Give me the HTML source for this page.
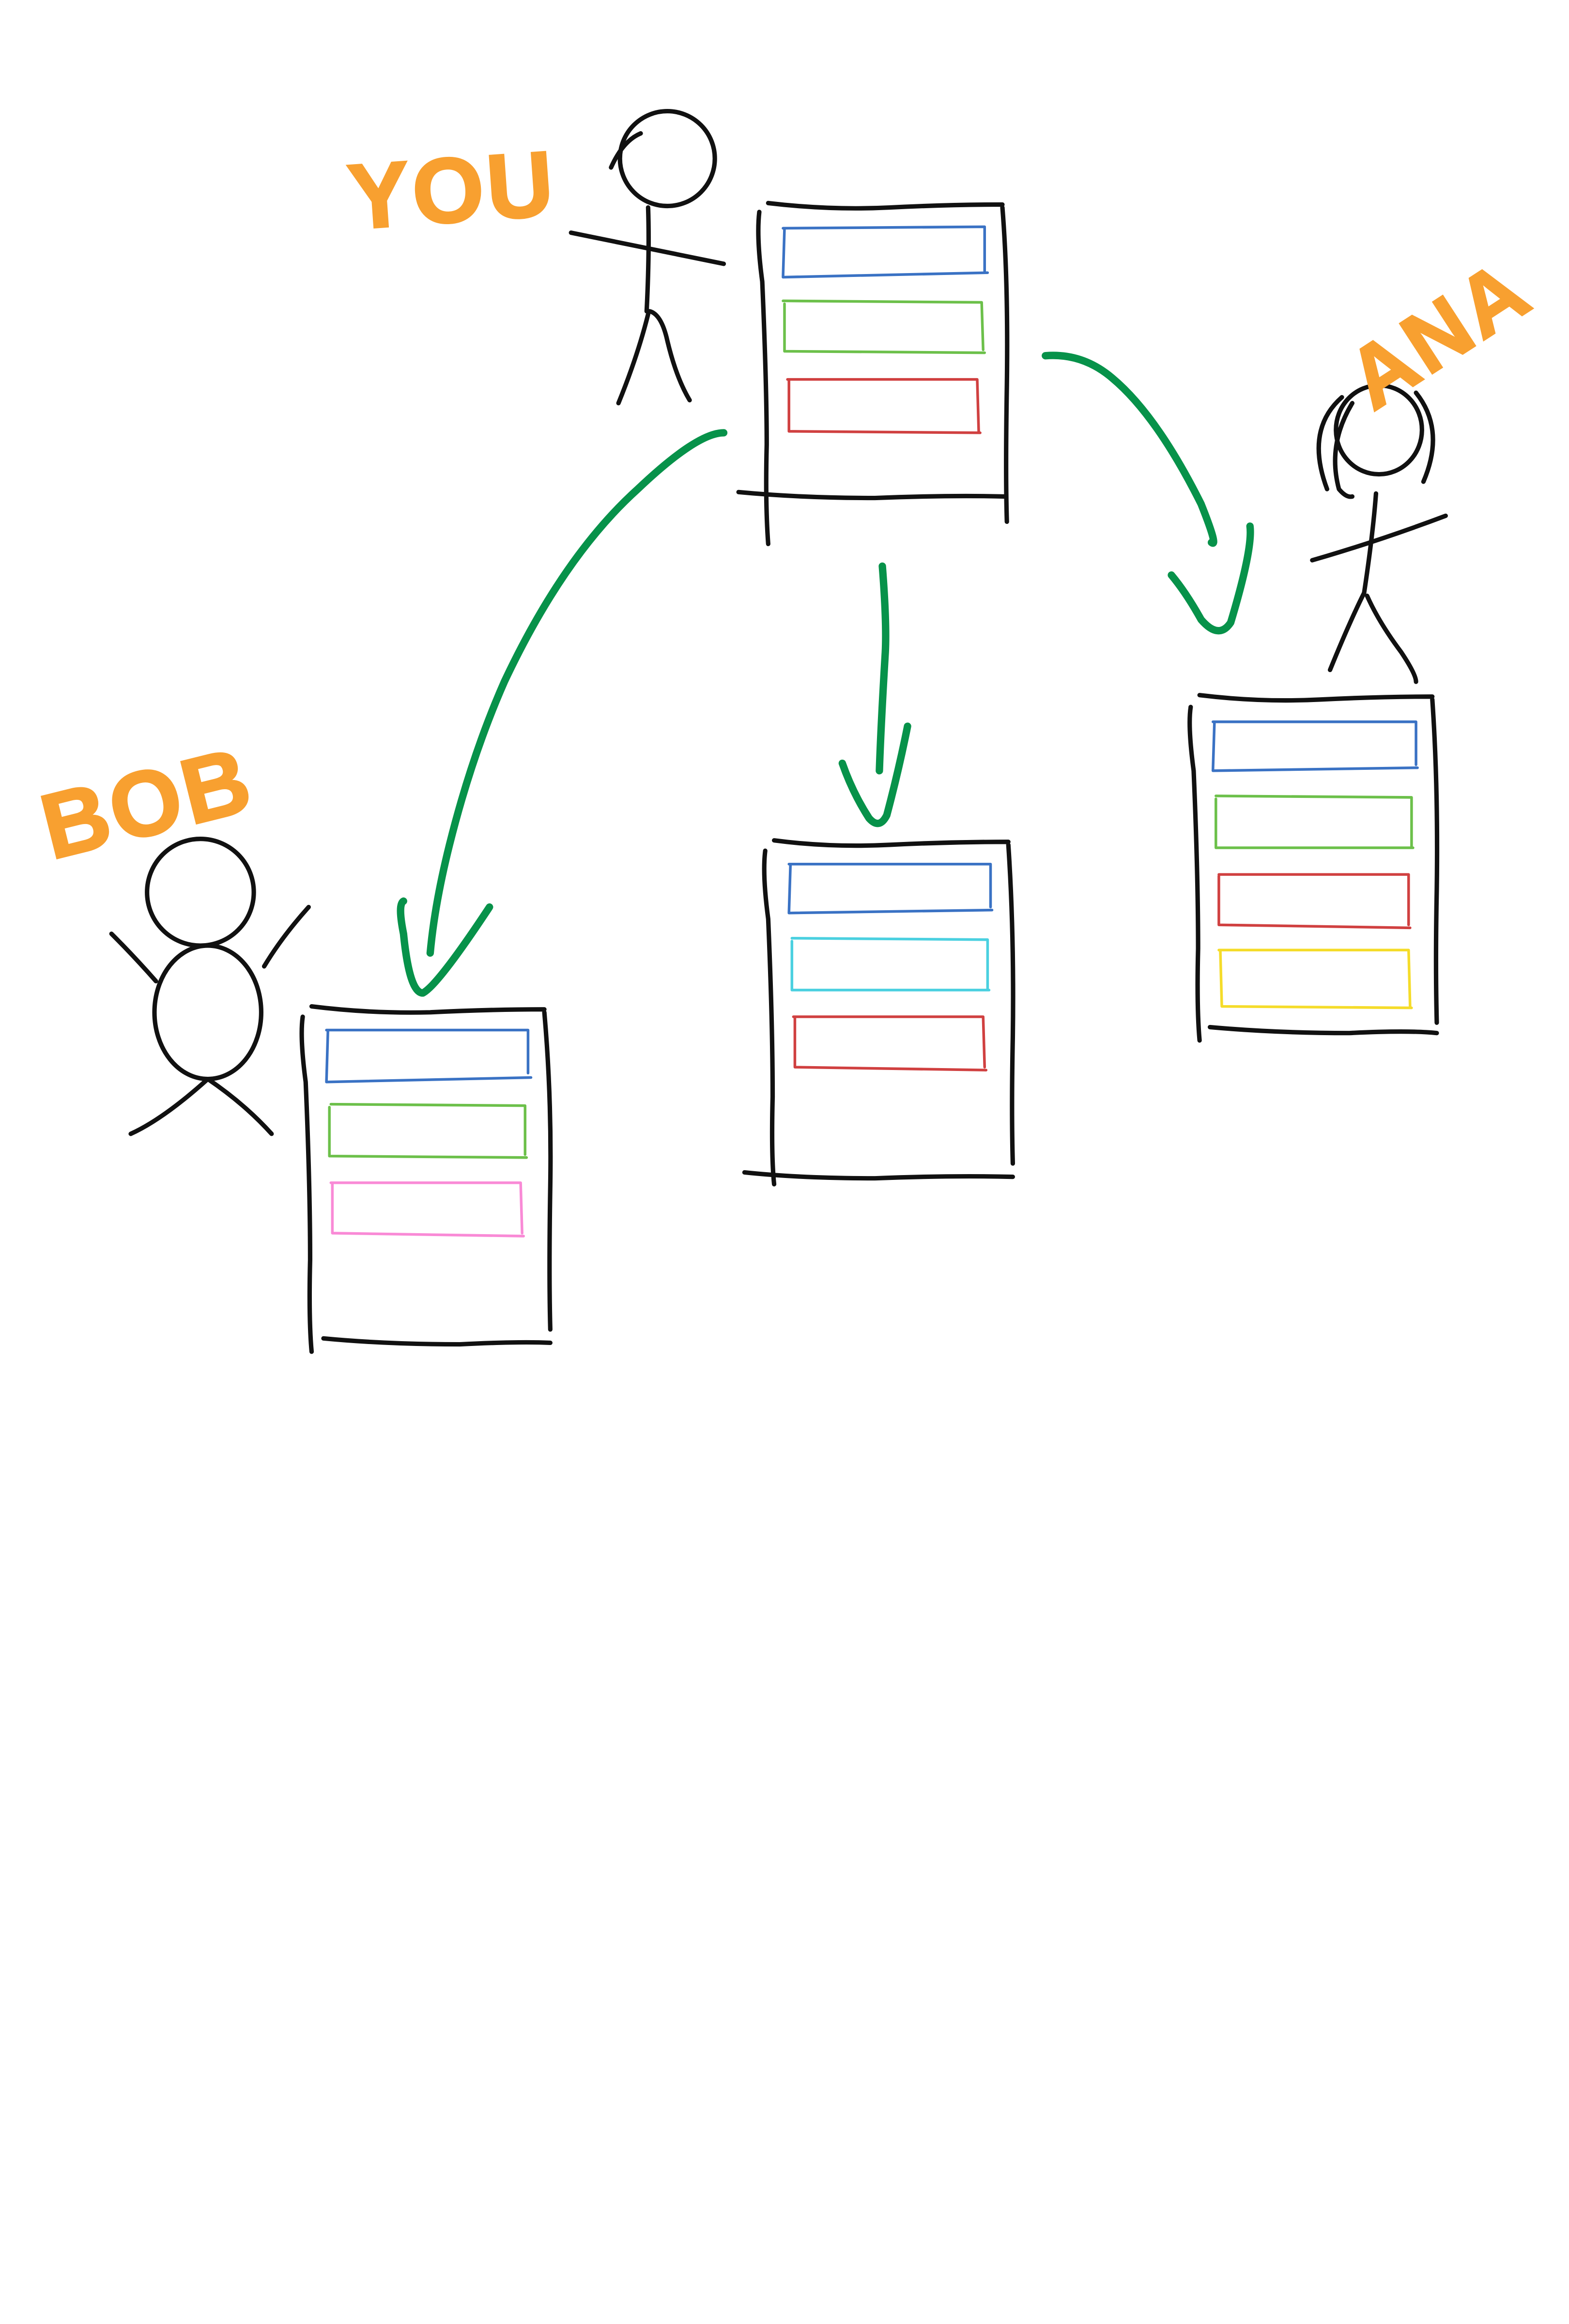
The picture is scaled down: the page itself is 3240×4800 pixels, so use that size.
<!DOCTYPE html>
<html><head><meta charset="utf-8"><style>html,body{margin:0;padding:0;background:#fff}svg{display:block}</style></head>
<body>
<svg width="3240" height="4800" viewBox="0 0 1058 1568" xmlns="http://www.w3.org/2000/svg">
<rect width="1058" height="1568" fill="#fff"/>
<g fill="none" stroke-linecap="round" stroke-linejoin="round">
<g stroke="#111" stroke-width="3">
<path d="M518 137 Q560 142 600 140 Q640 138 676 138 M676 140 Q680 190 679 260 Q678 320 679 352 M512 143 Q510 160 514 190 Q517 260 517 300 Q516 340 518 367 M498 332 Q540 336 590 336 Q640 334 678 335"/>
<path d="M210 679 Q250 684 290 683 Q330 681 367 681 M367 683 Q372 740 371 800 Q370 860 371 897 M204 686 Q202 700 206 730 Q209 800 209 850 Q208 890 210 912 M218 903 Q260 907 310 907 Q350 905 371 906"/>
<path d="M522 567 Q560 572 600 570 Q640 568 680 568 M680 570 Q684 630 683 700 Q682 750 683 785 M516 574 Q514 590 518 620 Q521 690 521 740 Q520 780 522 799 M502 791 Q540 795 590 795 Q640 793 683 794"/>
<path d="M809 469 Q850 474 890 472 Q930 470 966 470 M966 472 Q970 530 969 600 Q968 650 969 690 M803 477 Q801 490 805 520 Q808 590 808 640 Q807 680 809 702 M816 693 Q860 697 910 697 Q950 695 969 697"/>
</g>
<g stroke-width="1.8">
<path stroke="#3a72c4" d="M528 154 L664 153 L664 183 M529 154 L528 187 L666 184"/>
<path stroke="#6cc04a" d="M528 203 L662 204 L663 236 M529 205 L529 237 L664 238"/>
<path stroke="#d04040" d="M531 256 L659 256 L660 291 M532 257 L532 291 L661 292"/>
<path stroke="#3a72c4" d="M220 695 L356 695 L356 724 M221 696 L220 730 L358 727"/>
<path stroke="#6cc04a" d="M223 745 L354 746 L354 779 M222 747 L222 780 L355 781"/>
<path stroke="#f98ad6" d="M223 798 L351 798 L352 832 M224 799 L224 832 L353 834"/>
<path stroke="#3a72c4" d="M532 583 L668 583 L668 612 M533 584 L532 616 L669 614"/>
<path stroke="#4ad0e0" d="M534 633 L666 634 L666 667 M534 635 L534 668 L667 668"/>
<path stroke="#d04040" d="M535 686 L663 686 L664 720 M536 687 L536 720 L665 722"/>
<path stroke="#3a72c4" d="M818 487 L955 487 L955 516 M819 488 L818 520 L956 518"/>
<path stroke="#6cc04a" d="M820 537 L952 538 L952 571 M820 539 L820 572 L953 572"/>
<path stroke="#d04040" d="M822 590 L950 590 L950 624 M822 591 L822 624 L951 626"/>
<path stroke="#f5dc2a" d="M822 641 L950 641 L951 679 M823 642 L824 679 L952 680"/>
</g>
<g stroke="#07924a" stroke-width="5">
<path d="M488 292 Q470 292 430 330 Q380 375 340 460 Q318 510 303 570 Q293 610 290 643"/>
<path d="M272 608 Q268 610 272 630 Q276 670 285 670 Q295 665 330 612"/>
<path d="M595 382 Q598 420 597 440 Q594 490 593 520"/>
<path d="M568 515 Q575 535 586 552 Q593 560 598 550 Q606 520 612 490"/>
<path d="M705 240 Q730 238 750 255 Q780 280 810 340 Q822 370 817 366"/>
<path d="M790 388 Q800 400 810 418 Q822 432 830 420 Q845 370 843 355"/>
</g>
<g stroke="#111" stroke-width="3">
<circle cx="450" cy="107" r="32"/>
<path d="M432 90 Q420 95 412 113 M437 140 Q438 170 436 210 M385 157 Q440 168 488 178 M437 212 Q430 240 417 272 M438 210 Q446 212 450 230 Q456 255 465 270"/>
<ellipse cx="930" cy="290" rx="29" ry="30"/>
<path d="M905 268 Q880 290 895 330 M912 272 Q895 300 903 330 Q908 336 912 335 M955 265 Q975 290 960 325 M928 333 Q926 360 920 400 M885 378 Q930 365 975 348 M920 400 Q910 420 897 452 M922 402 Q930 420 945 440 Q955 455 955 460"/>
<circle cx="135" cy="602" r="36"/>
<ellipse cx="140" cy="683" rx="36" ry="45"/>
<path d="M75 630 Q90 645 105 662 M208 612 Q190 632 178 652 M140 728 Q110 755 88 765 M140 728 Q165 745 183 765"/>
</g>
</g>
<g fill="#f8a030" stroke="#f8a030" stroke-width="1.5" font-family="Liberation Sans, sans-serif" font-weight="bold">
<text x="234" y="150" font-size="62" letter-spacing="2" transform="rotate(-4 300 120)">YOU</text>
<text x="24" y="565" font-size="62" letter-spacing="2" transform="rotate(-14 90 530)">BOB</text>
<text x="900" y="250" font-size="58" letter-spacing="2" transform="rotate(-33 960 220)">ANA</text>
</g>
</svg>
</body></html>
